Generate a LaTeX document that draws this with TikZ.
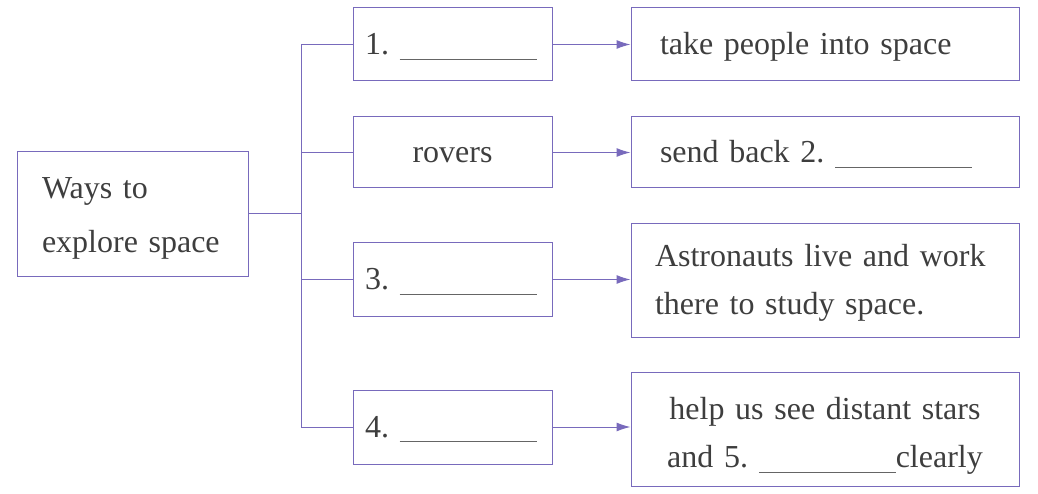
\documentclass[tikz,border=0pt]{standalone}
\usepackage{fontspec}
\setmainfont{Liberation Serif}
\usetikzlibrary{arrows.meta}
\definecolor{linkblue}{RGB}{120,106,188}
\definecolor{inkgray}{RGB}{62,62,62}
\newcommand{\gap}{\textcolor{inkgray!80}{\rule[-5pt]{137pt}{0.9pt}}}
\newcommand{\lift}[1]{\rule{0pt}{#1}}
\begin{document}
\begin{tikzpicture}[x=1pt, y=-1pt]
        \tikzstyle{box}=[draw=linkblue, line width=1pt, text=inkgray, inner ysep=0pt, font=\fontsize{32}{48}\selectfont]
        \tikzstyle{one-line}=[box, text height=26pt, text depth=6pt]
        \tikzstyle{link}=[draw=linkblue, line width=1pt]
        \tikzstyle{feed}=[link, -{Latex[length=14pt, width=9pt]}]

        % \draw (0, 0) grid (1038, 494);
        \useasboundingbox (0, 0) rectangle (1038, 494);
        \node[box, text width=181pt, inner xsep=25pt, align=left, minimum height=124pt] (ways) at (132.5, 214) {\lift{30pt}Ways to\\[6pt]explore space};

        \node[one-line, text width=175pt, inner xsep=12pt, align=left, minimum height=73pt] (means-1) at (452.5, 44.5) {1.\ \gap};
        \node[one-line, text width=175pt, inner xsep=12pt, align=center, minimum height=71pt] (means-2) at (452.5, 152.5) {rovers};
        \node[one-line, text width=175pt, inner xsep=12pt, align=left, minimum height=73pt] (means-3) at (452.5, 279.5) {3.\ \gap};
        \node[one-line, text width=175pt, inner xsep=12pt, align=left, minimum height=74pt] (means-4) at (452.5, 427) {4.\ \gap};

        \node[one-line, text width=330pt, inner xsep=29pt, align=left, minimum height=73pt] (use-1) at (825, 44.5) {take people into space};
        \node[one-line, text width=330pt, inner xsep=29pt, align=left, minimum height=71pt] (use-2) at (825, 152.5) {send back 2.\ \gap};
        \node[box, text width=340pt, inner xsep=24pt, align=left, minimum height=113pt] (use-3) at (825, 280.5) {\lift{27pt}Astronauts live and work\\there to study space.};
        \node[box, text width=370pt, inner xsep=9pt, align=center, minimum height=114pt] (use-4) at (825, 429) {\lift{36pt}help us see distant stars\\and 5.\ \gap clearly};

        \coordinate (fork) at (301, 214);
        \draw[link] (ways.east) -- (fork);
        \draw[link] (means-1.west) -- (means-1.west -| fork) -- (means-4.west -| fork) -- (means-4.west);
        \draw[link] (means-2.west) -- (means-2.west -| fork);
        \draw[link] (means-3.west) -- (means-3.west -| fork);

        \draw[feed] (means-1.east) -- (means-1.east -| use-1.west);
        \draw[feed] (means-2.east) -- (means-2.east -| use-2.west);
        \draw[feed] (means-3.east) -- (means-3.east -| use-3.west);
        \draw[feed] (means-4.east) -- (means-4.east -| use-4.west);
    \end{tikzpicture}
\end{document}
